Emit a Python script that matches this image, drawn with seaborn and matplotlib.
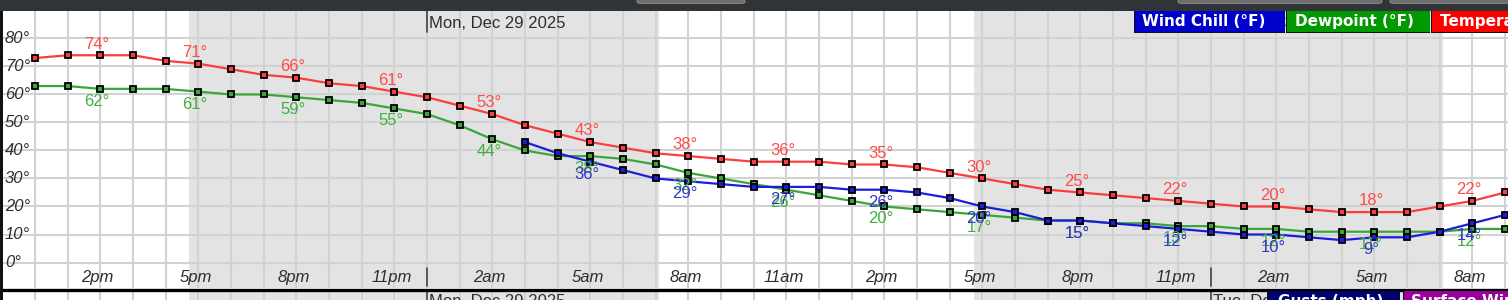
import numpy as np
import pandas as pd
import matplotlib
matplotlib.use("Agg")
import matplotlib.pyplot as plt
import matplotlib.transforms as mtransforms
from matplotlib.patches import Rectangle, FancyBboxPatch
from matplotlib.lines import Line2D
import seaborn as sns

# ---------------- data (hours after noon, Sun Dec 28 2025) ----------------
hours = list(range(46))
temperature = [73, 74, 74, 74, 72, 71, 69, 67, 66, 64, 63, 61, 59, 56, 53,
               49, 46, 43, 41, 39, 38, 37, 36, 36, 36, 35, 35, 34, 32, 30,
               28, 26, 25, 24, 23, 22, 21, 20, 20, 19, 18, 18, 18, 20, 22, 25]
dewpoint = [63, 63, 62, 62, 62, 61, 60, 60, 59, 58, 57, 55, 53, 49, 44,
            40, 38, 38, 37, 35, 32, 30, 28, 26, 24, 22, 20, 19, 18, 17,
            16, 15, 15, 14, 14, 13, 13, 12, 12, 11, 11, 11, 11, 11, 12, 12]
wind_chill = [np.nan] * 15 + [43, 39, 36, 33, 30, 29, 28, 27, 27, 27, 26, 26,
                              25, 23, 20, 18, 15, 15, 14, 13, 12, 11, 10, 10,
                              9, 8, 9, 9, 11, 14, 17]
label_hours = [2, 5, 8, 11, 14, 17, 20, 23, 26, 29, 32, 35, 38, 41, 44]
label_names = ["2pm", "5pm", "8pm", "11pm", "2am", "5am", "8am", "11am",
               "2pm", "5pm", "8pm", "11pm", "2am", "5am", "8am"]
y_ticks = [0, 10, 20, 30, 40, 50, 60, 70, 80]
night_start = [4.7, 28.75]
night_end = [19.1, 43.1]
midnights = [12, 36]
day_names = ["Mon, Dec 29 2025", "Tue, Dec 30 2025"]
series_names = ["Wind Chill (°F)", "Dewpoint (°F)", "Temperature (°F)"]
lower_names = ["Gusts (mph)", "Surface Wind (mph)"]

df = pd.DataFrame({"hour": hours, "Temperature": temperature,
                   "Dewpoint": dewpoint, "WindChill": wind_chill})

# ---------------- style ----------------
sns.set_style("white")
plt.rcParams["font.family"] = ["Liberation Sans", "DejaVu Sans"]

W, H = 1508, 300
fig = plt.figure(figsize=(W / 100, H / 100), dpi=100)
fig.patch.set_facecolor("white")


def fx(px):
    return px / W


def fy(py):
    return 1 - py / H


x_left, x_right = -0.98, 45.09
grid_c = "#d2d2d2"
night_c = "#e3e3e3"
text_c = "#2e2e2e"

ax = fig.add_axes([fx(3), fy(288), 1 - fx(3), (288 - 11) / H])
ax.set_xlim(x_left, x_right)
ax.set_ylim(-9.1, 89.8)
for s in ax.spines.values():
    s.set_visible(False)
ax.set_xticks(hours)
ax.set_yticks(y_ticks)
ax.tick_params(length=0, labelbottom=False, labelleft=False)
ax.grid(True, color=grid_c, linewidth=1.5)
ax.set_axisbelow(True)
for s, e in zip(night_start, night_end):
    ax.axvspan(s, e, color=night_c, lw=0, zorder=0.2)
for m in midnights:
    ax.axvline(m, ymin=(288 - 32) / 277, ymax=1, color="#444444", lw=1.2, zorder=1)
    ax.axvline(m, ymin=(288 - 286) / 277, ymax=(288 - 268) / 277, color="#444444", lw=1.2, zorder=1)

red_l, green_l, blue_l = "#ff3c3c", "#3aa63a", "#1c1cdc"
red_t, green_t, blue_t = "#ff4a4a", "#3fb03f", "#3535cc"

common = dict(marker="s", markersize=4.3, markeredgecolor="black",
              markeredgewidth=1.3, linewidth=1.6, legend=False)
sns.lineplot(data=df, x="hour", y="Temperature", color=red_l,
             markerfacecolor=red_l, ax=ax, zorder=3, **common)
sns.lineplot(data=df, x="hour", y="Dewpoint", color=green_l,
             markerfacecolor=green_l, ax=ax, zorder=3, **common)
sns.lineplot(data=df.dropna(), x="hour", y="WindChill", color=blue_l,
             markerfacecolor=blue_l, ax=ax, zorder=4, **common)
ax.set_xlabel("")
ax.set_ylabel("")

lab_fs = 12
for h in label_hours:
    ax.annotate(f"{temperature[h]}°", (h, temperature[h]), xytext=(-2.5, 8),
                textcoords="offset points", ha="center", va="center",
                color=red_t, fontsize=lab_fs, zorder=6)
    ax.annotate(f"{dewpoint[h]}°", (h, dewpoint[h]), xytext=(-2.5, -9),
                textcoords="offset points", ha="center", va="center",
                color=green_t, fontsize=lab_fs, zorder=6)
for h in label_hours:
    if not np.isnan(wind_chill[h]):
        v = int(wind_chill[h])
        ax.annotate(f"{v}°", (h, v), xytext=(-2.5, -9),
                    textcoords="offset points", ha="center", va="center",
                    color=blue_t, fontsize=lab_fs, zorder=7)

# y labels inside the plot
blend = mtransforms.blended_transform_factory(ax.transAxes, ax.transData)
for v in y_ticks:
    ax.text(2 / 1505, v, f"{v}°", transform=blend, ha="left", va="center",
            style="italic", fontsize=12, color=text_c, zorder=6)
# hour labels
for h, n in zip(label_hours, label_names):
    ax.annotate(n, (h, -5.35), xytext=(-2, 0), textcoords="offset points",
                ha="center", va="center", style="italic", fontsize=12,
                color=text_c, zorder=6)
# day labels (top of panel)
for m, d in zip(midnights, day_names):
    ax.annotate(d, (m, (288 - 23) / 277), xycoords=("data", "axes fraction"),
                xytext=(2, 0), textcoords="offset pixels",
                ha="left", va="center", fontsize=12, color=text_c, zorder=6,
                annotation_clip=False)

# ---------------- lower panel strip ----------------
ax2 = fig.add_axes([fx(3), fy(340), 1 - fx(3), (340 - 291) / H])
ax2.set_xlim(x_left, x_right)
ax2.set_ylim(0, 1)
for s in ax2.spines.values():
    s.set_visible(False)
ax2.set_xticks(hours)
ax2.set_yticks([])
ax2.tick_params(length=0, labelbottom=False, labelleft=False)
ax2.grid(True, axis="x", color=grid_c, linewidth=1.5)
ax2.set_axisbelow(True)
for s, e in zip(night_start, night_end):
    ax2.axvspan(s, e, color=night_c, lw=0, zorder=0.2)
for m in midnights:
    ax2.axvline(m, color="#444444", lw=1.2, zorder=1)
for m, d in zip(midnights, day_names):
    ax2.annotate(d, (m, 1), xycoords=("data", "axes fraction"),
                 xytext=(2, -3.5), textcoords="offset pixels",
                 ha="left", va="top", fontsize=12, color=text_c, zorder=6,
                 annotation_clip=False)

# ---------------- figure decorations ----------------
def frect(x0, y0, x1, y1, color, z):
    fig.patches.append(Rectangle((fx(x0), fy(y1)), fx(x1) - fx(x0),
                                 (y1 - y0) / H, transform=fig.transFigure,
                                 facecolor=color, edgecolor="none", zorder=z))


frect(0, 0, W, 10.5, "#313437", 10)
for x0, x1 in [(637, 745), (1178, 1382), (1390, 1512)]:
    fig.patches.append(FancyBboxPatch((fx(x0), fy(3.5)), fx(x1) - fx(x0),
                                      6 / H, boxstyle="round,pad=0,rounding_size=0.004",
                                      transform=fig.transFigure,
                                      facecolor="#6e6e6e", edgecolor="#8a8a8a",
                                      lw=0.6, zorder=11))
frect(0, 10.5, 3, H, "#111111", 12)
fig.lines.append(Line2D([fx(3), 1], [fy(289.5), fy(289.5)], color="black",
                        lw=2.4, transform=fig.transFigure, zorder=12))

# top legend boxes
leg_boxes = [(1135, 1285, "#0000cc", 1142), (1287, 1430, "#009900", 1295),
             (1432, 1600, "#ff0000", 1440)]
for (x0, x1, c, tx), name in zip(leg_boxes, series_names):
    frect(x0 - 1.5, 11, x1, 33, "#111111", 13)
    frect(x0, 11, x1, 31.5, c, 14)
    fig.text(fx(tx), fy(21.5), name, ha="left", va="center", color="white",
             fontsize=11, fontweight="bold", family="DejaVu Sans", zorder=15)

# lower legend boxes
low_boxes = [(1268, 1400, "#00006e", 1278), (1404, 1600, "#990099", 1411)]
for (x0, x1, c, tx), name in zip(low_boxes, lower_names):
    frect(x0 - 1.5, 291, x1, 320, "#111111", 13)
    frect(x0, 291, x1, 320, c, 14)
    fig.text(fx(tx), fy(294), name, ha="left", va="top", color="white",
             fontsize=11, fontweight="bold", family="DejaVu Sans", zorder=15)

fig.savefig("out.png", dpi=100)
